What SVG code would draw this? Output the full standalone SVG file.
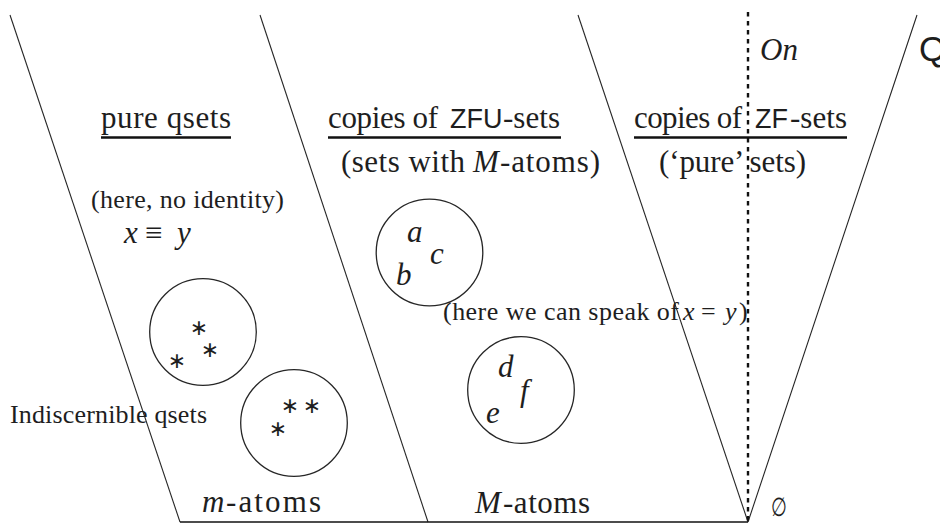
<svg xmlns="http://www.w3.org/2000/svg" width="940" height="525" viewBox="0 0 940 525">
<style>
.ln{stroke:#262626;stroke-width:1.1;fill:none}
.cir{stroke:#262626;stroke-width:1.3;fill:none}
.t{font-family:"Liberation Serif","Times New Roman",serif;fill:#1e1e1e}
.big{font-size:31px}
.sm{font-size:26px}
.it{font-style:italic}
.sf{font-family:"Liberation Sans",Arial,sans-serif;font-size:27px}
.ul{stroke:#111;stroke-width:2.4}
.st{font-family:"DejaVu Sans",sans-serif;font-size:22px;fill:#1e1e1e;text-anchor:middle}
</style>
<rect width="940" height="525" fill="#fff"/>
<g id="connectors">
<line class="ln" x1="10" y1="15" x2="180" y2="522"/>
<line class="ln" x1="260" y1="15" x2="428" y2="522"/>
<line class="ln" x1="578" y1="15" x2="748" y2="522"/>
<line class="ln" x1="748" y1="522" x2="917" y2="15"/>
<line x1="180" y1="522" x2="748" y2="522" stroke="#111" stroke-width="1.6"/>
<line x1="748" y1="12" x2="748" y2="522" stroke="#111" stroke-width="2.4" stroke-dasharray="4.5,4.5"/>
</g>
<g id="pure-qsets">
<text class="t big" x="101" y="128" textLength="130">pure qsets</text>
<line class="ul" x1="101" y1="137.5" x2="231" y2="137.5"/>
<text class="t sm" x="91" y="208" textLength="193">(here, no identity)</text>
<text class="t big" x="124" y="243"><tspan class="it">x</tspan><tspan x="145">≡</tspan><tspan class="it" x="177">y</tspan></text>
</g>
<g id="zfu-sets">
<text class="t big" x="328" y="128"><tspan textLength="110">copies of</tspan><tspan class="sf" x="450">ZFU</tspan><tspan x="503" textLength="57">-sets</tspan></text>
<line class="ul" x1="328" y1="137.5" x2="561" y2="137.5"/>
<text class="t big" x="341" y="172"><tspan textLength="124">(sets with</tspan><tspan class="it" x="473">M</tspan><tspan x="500" textLength="100">-atoms)</tspan></text>
</g>
<g id="zf-sets">
<text class="t big" x="634" y="128"><tspan textLength="108">copies of</tspan><tspan class="sf" x="755">ZF</tspan><tspan x="790" textLength="57">-sets</tspan></text>
<line class="ul" x1="634" y1="137.5" x2="847" y2="137.5"/>
<text class="t big" x="659" y="172" textLength="147">(‘pure’ sets)</text>
</g>
<g id="on">
<text class="t big it" x="760" y="60">On</text>
</g>
<g id="q">
<text font-family="Liberation Sans,Arial,sans-serif" x="919" y="61" font-size="35" fill="#1e1e1e">Q</text>
</g>
<g id="set-abc">
<circle class="cir" cx="429.5" cy="252.5" r="53.3"/>
<text class="t big it" x="407" y="242">a</text>
<text class="t big it" x="430" y="264">c</text>
<text class="t big it" x="396" y="285">b</text>
</g>
<g id="speak">
<text class="t sm" x="443" y="320"><tspan textLength="236">(here we can speak of</tspan><tspan class="it" x="683">x</tspan><tspan x="701">=</tspan><tspan class="it" x="725">y</tspan><tspan x="739">)</tspan></text>
</g>
<g id="set-def">
<circle class="cir" cx="521" cy="390" r="53.3"/>
<text class="t big it" x="498" y="377">d</text>
<text class="t big it" x="520" y="401">f</text>
<text class="t big it" x="486" y="423">e</text>
</g>
<g id="qset-1">
<circle class="cir" cx="203" cy="332" r="53.3"/>
<text class="st" x="199" y="335">∗</text>
<text class="st" x="210" y="357">∗</text>
<text class="st" x="177" y="368">∗</text>
</g>
<g id="qset-2">
<circle class="cir" cx="294" cy="423" r="53.3"/>
<text class="st" x="290" y="413">∗</text>
<text class="st" x="312" y="413">∗</text>
<text class="st" x="278" y="436">∗</text>
</g>
<g id="indiscernible">
<text class="t sm" x="10" y="423" textLength="197">Indiscernible qsets</text>
</g>
<g id="m-atoms">
<text class="t big" x="202" y="512"><tspan class="it">m</tspan><tspan x="226" textLength="95">-atoms</tspan></text>
</g>
<g id="M-atoms">
<text class="t big" x="475" y="513"><tspan class="it">M</tspan><tspan x="503" textLength="87">-atoms</tspan></text>
</g>
<g id="emptyset">
<text x="0" y="0" font-family="DejaVu Sans,sans-serif" font-size="26" fill="#1e1e1e" transform="translate(771,516) scale(0.7,1)">∅</text>
</g>
</svg>
